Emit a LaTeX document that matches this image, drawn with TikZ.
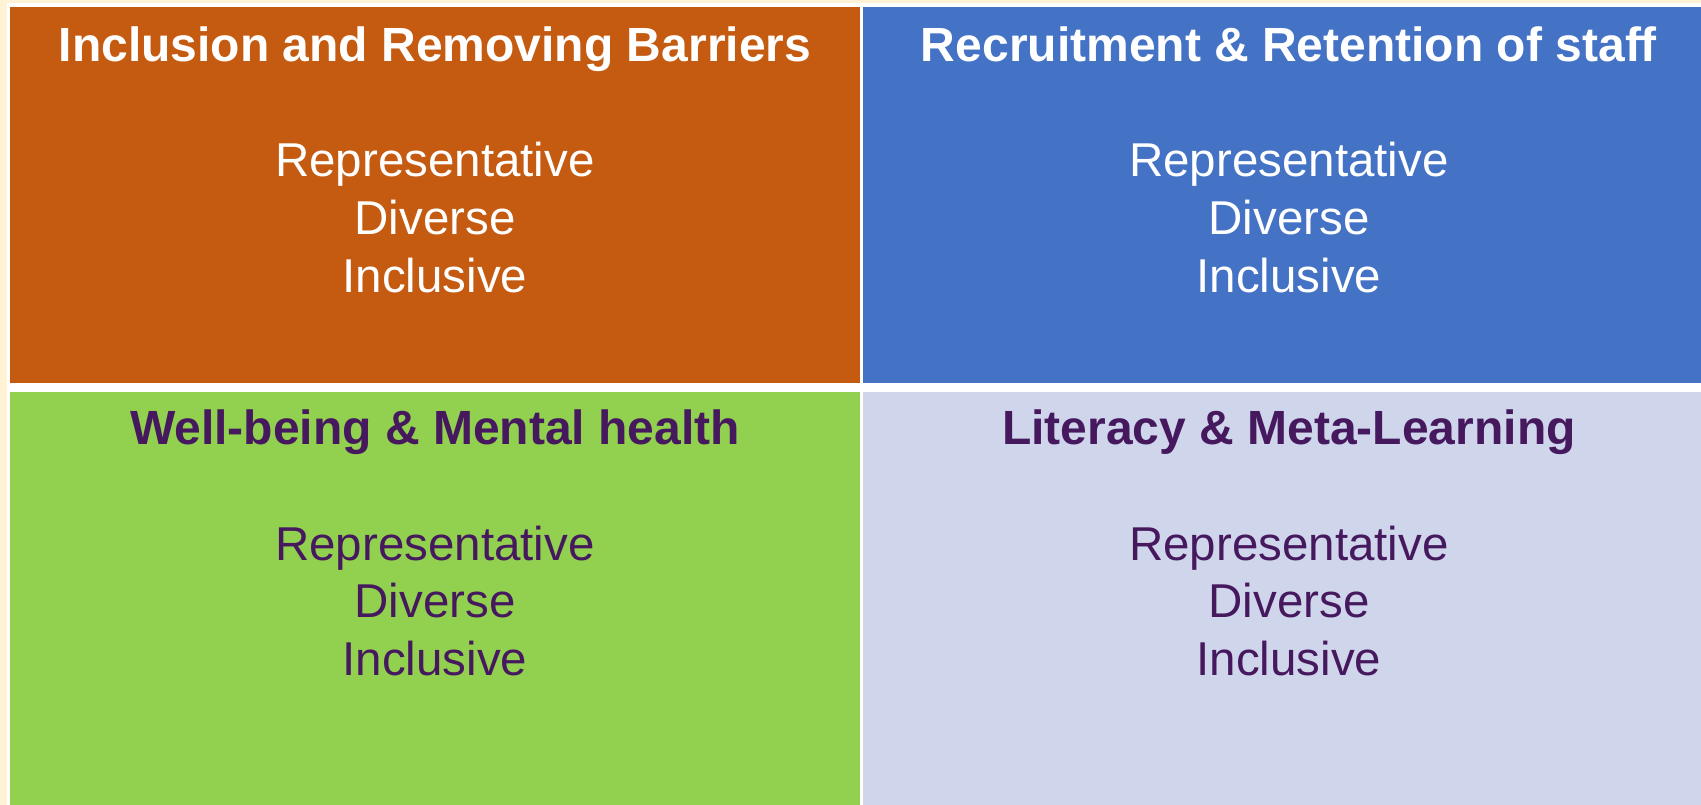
\documentclass[tikz,border=0pt]{standalone}
\usepackage{fontspec}
\setmainfont{Liberation Sans}
\definecolor{cream}{RGB}{255,242,213}
\definecolor{corange}{RGB}{197,90,17}
\definecolor{cblue}{RGB}{68,114,196}
\definecolor{cgreen}{RGB}{146,208,80}
\definecolor{clav}{RGB}{207,213,234}
\definecolor{cpurple}{RGB}{70,25,95}
\tikzset{
  cell/.style={draw=none, inner sep=0pt, outer sep=0pt, anchor=north west},
  ttl/.style={anchor=base, inner sep=0pt, font=\bfseries\fontsize{48}{57.5}\selectfont},
  bodytxt/.style={anchor=base, inner sep=0pt, font=\fontsize{47.5}{57.5}\selectfont},
}
\begin{document}
\begin{tikzpicture}[x=1pt,y=-1pt]
\useasboundingbox (0,0) rectangle (1701,805);
\fill[cream] (0,0) rectangle (1701,805);
\fill[white] (7,3) rectangle (1701,805);
% cells
\node[cell, fill=corange, minimum width=850pt, minimum height=376pt] (tl) at (10,7) {};
\node[cell, fill=cblue, minimum width=838pt, minimum height=376pt] (tr) at (863,7) {};
\node[cell, fill=cgreen, minimum width=850pt, minimum height=413pt] (bl) at (10,392) {};
\node[cell, fill=clav, minimum width=838pt, minimum height=413pt] (br) at (863,392) {};
% top-left
\node[ttl, text=white] (tlt) at (435,62) {Inclusion and Removing Barriers};
\node[bodytxt, text=white] (tl1) at (435,177) {Representative};
\node[bodytxt, text=white] (tl2) at (435,234.5) {Diverse};
\node[bodytxt, text=white] (tl3) at (435,292) {Inclusive};
% top-right
\node[ttl, text=white] (trt) at (1289,62) {Recruitment \& Retention of staff};
\node[bodytxt, text=white] (tr1) at (1289,177) {Representative};
\node[bodytxt, text=white] (tr2) at (1289,234.5) {Diverse};
\node[bodytxt, text=white] (tr3) at (1289,292) {Inclusive};
% bottom-left
\node[ttl, text=cpurple] (blt) at (435,444) {Well-being \& Mental health};
\node[bodytxt, text=cpurple] (bl1) at (435,560) {Representative};
\node[bodytxt, text=cpurple] (bl2) at (435,617.5) {Diverse};
\node[bodytxt, text=cpurple] (bl3) at (435,675) {Inclusive};
% bottom-right
\node[ttl, text=cpurple] (brt) at (1289,444) {Literacy \& Meta-Learning};
\node[bodytxt, text=cpurple] (br1) at (1289,560) {Representative};
\node[bodytxt, text=cpurple] (br2) at (1289,617.5) {Diverse};
\node[bodytxt, text=cpurple] (br3) at (1289,675) {Inclusive};
\end{tikzpicture}
\end{document}
